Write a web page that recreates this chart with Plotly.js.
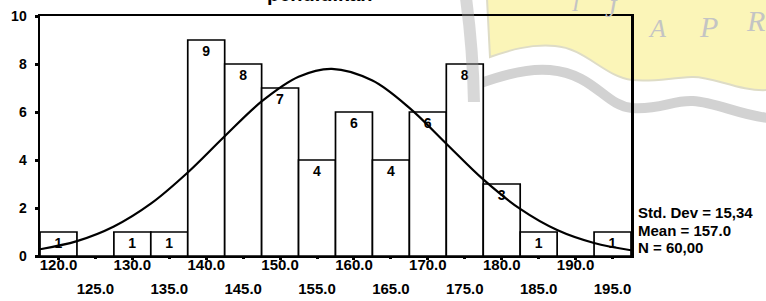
<!DOCTYPE html>
<html>
<head>
<meta charset="utf-8">
<script src="https://cdn.plot.ly/plotly-3.0.1.min.js"></script>
<style>
html,body{margin:0;padding:0;background:#fff;}
#chart{width:766px;height:301px;}
</style>
</head>
<body>
<div id="chart"></div>
<script>
// ---- data ----
const binCenters = [120,125,130,135,140,145,150,155,160,165,170,175,180,185,190,195];
const counts     = [1,0,1,1,9,8,7,4,6,4,6,8,3,1,0,1];
const curveX = [117.5,122.5,127.5,132.5,137.5,142.5,147.5,152.5,157,162.5,167.5,172.5,177.5,182.5,187.5,192.5,197.5];
const curveY = [0.28,0.62,1.23,2.18,3.48,4.99,6.44,7.47,7.80,7.31,6.17,4.68,3.19,1.96,1.08,0.54,0.24];
const upperTicks = [120,130,140,150,160,170,180,190];
const lowerTicks = [125,135,145,155,165,175,185,195];
const yTicks = [0,2,4,6,8,10];
const titleText = 'pendidikan';
const statsLines = ['Std. Dev = 15,34','Mean = 157.0','N = 60,00'];
const watermarkLetters = ['I','J','A','P','R'];

// ---- layout geometry ----
const L = 40, T = 16, W = 591, H = 240, FW = 766, FH = 301;
const fx = x => ((x - L) / W).toFixed(4);
const fy = y => ((T + H - y) / H).toFixed(4);
function path(cmds){
  return cmds.map(c => {
    if (c.length === 1) return c[0];
    let s = c[0];
    for (let i = 1; i < c.length; i += 2) s += ' ' + fx(c[i]) + ',' + fy(c[i+1]);
    return s;
  }).join(' ');
}

const bars = {
  type: 'bar',
  x: binCenters,
  y: counts,
  width: 5,
  marker: {color: '#ffffff', line: {color: '#000000', width: 1.7}},
  text: counts.map(c => c > 0 ? String(c) : ''),
  textposition: 'inside',
  insidetextanchor: 'end',
  textangle: 0,
  constraintext: 'none',
  textfont: {family: 'Liberation Sans, Arial, sans-serif', size: 14, weight: 'bold', color: '#000'},
  hoverinfo: 'skip',
  cliponaxis: false
};

const curve = {
  type: 'scatter',
  mode: 'lines',
  x: curveX,
  y: curveY,
  line: {color: '#000', width: 2.2, shape: 'spline', smoothing: 1},
  hoverinfo: 'skip'
};

const tickFontX = {family: 'Liberation Sans, Arial, sans-serif', size: 15, weight: 'bold', color: '#000'};
const tickFontY = {family: 'Liberation Sans, Arial, sans-serif', size: 14, weight: 'bold', color: '#000'};

const shapes = [
  // yellow watermark patch
  {type: 'path', xref: 'paper', yref: 'paper', layer: 'below',
   path: path([['M',487,-2],['L',FW+2,-2],['L',FW+2,90],
               ['C',740,92,712,76,692,77],['C',668,78,655,82,632,80],
               ['C',605,77,585,48,555,46],['C',530,44,510,50,490,57],['Z']]),
   fillcolor: '#fbf5b8', line: {color: '#dedcc6', width: 2}},
  // grey wave band
  {type: 'path', xref: 'paper', yref: 'paper', layer: 'below',
   path: path([['M',478,84],['C',505,74,530,68,550,70],['C',595,74,605,106,632,108],
               ['C',660,110,672,100,693,101],['C',715,102,740,115,FW+2,118]]),
   line: {color: '#d2d2d2', width: 10}},
  // grey arc
  {type: 'path', xref: 'paper', yref: 'paper', layer: 'above', opacity: 0.4,
   path: path([['M',466,-2],['Q',473,50,474,102]]),
   line: {color: '#a0a0a0', width: 12}}
];

const annotations = [
  {text: titleText, xref: 'paper', yref: 'paper', x: Number(fx(320)), y: Number(fy(7)),
   xanchor: 'center', yanchor: 'bottom', showarrow: false,
   font: {family: 'Liberation Sans, Arial, sans-serif', size: 20, weight: 'bold', color: '#000'}}
];
const statY = [212, 230, 247];
statsLines.forEach((s, i) => annotations.push({
  text: s, xref: 'paper', yref: 'paper', x: Number(fx(636)), y: Number(fy(statY[i])),
  xanchor: 'left', yanchor: 'middle', showarrow: false, align: 'left',
  font: {family: 'Liberation Sans, Arial, sans-serif', size: 15, weight: 'bold', color: '#000'}
}));
const letterPos = [[576,4,22],[611,8,26],[657,28,26],[708,26,30],[756,20,30]];
watermarkLetters.forEach((ch, i) => annotations.push({
  text: ch, xref: 'paper', yref: 'paper', x: Number(fx(letterPos[i][0])), y: Number(fy(letterPos[i][1])),
  xanchor: 'center', yanchor: 'middle', showarrow: false,
  font: {family: 'Liberation Serif, serif', size: letterPos[i][2], style: 'italic', color: '#c4c4c4'}
}));

const layout = {
  width: FW, height: FH,
  margin: {l: L, r: FW - L - W, t: T, b: FH - T - H, pad: 0},
  paper_bgcolor: '#ffffff',
  plot_bgcolor: 'rgba(0,0,0,0)',
  showlegend: false,
  bargap: 0,
  xaxis: {
    range: [117.5, 197.5], tickvals: upperTicks, ticktext: upperTicks.map(v => v.toFixed(1)),
    ticks: 'outside', ticklen: 2, tickwidth: 3, tickcolor: '#000',
    showline: true, linewidth: 2, linecolor: '#000', mirror: true,
    showgrid: false, zeroline: false, tickfont: tickFontX, ticklabelstandoff: -8
  },
  xaxis2: {
    overlaying: 'x', anchor: 'y', side: 'bottom', matches: 'x',
    range: [117.5, 197.5], tickvals: lowerTicks, ticktext: lowerTicks.map(v => v.toFixed(1)),
    ticks: 'outside', ticklen: 2, tickwidth: 3, tickcolor: '#000',
    showline: false, showgrid: false, zeroline: false, tickfont: tickFontX, ticklabelstandoff: 17
  },
  yaxis: {
    range: [0, 10], tickvals: yTicks, ticktext: yTicks.map(String),
    ticks: 'outside', ticklen: 3, tickwidth: 3, tickcolor: '#000',
    showline: true, linewidth: 2.5, linecolor: '#000', mirror: true,
    showgrid: false, zeroline: false, tickfont: tickFontY, ticklabelstandoff: 5
  },
  shapes: shapes,
  annotations: annotations
};

const dummy = {type: 'scatter', x: [], y: [], xaxis: 'x2', yaxis: 'y', hoverinfo: 'skip'};

Plotly.newPlot('chart', [bars, curve, dummy], layout, {staticPlot: true, displayModeBar: false});
</script>
</body>
</html>
